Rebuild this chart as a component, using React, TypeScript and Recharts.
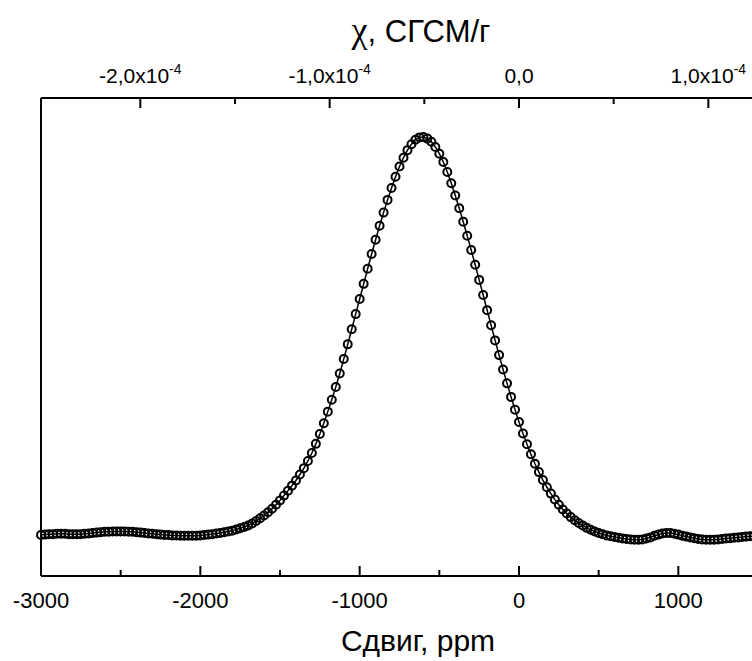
import { Line, LineChart, XAxis, YAxis } from "recharts";

// shift grid, ppm
const SHIFT_PPM = [
  -3000, -2975, -2950, -2925, -2900, -2875, -2850, -2825, -2800, -2775,
  -2750, -2725, -2700, -2675, -2650, -2625, -2600, -2575, -2550, -2525,
  -2500, -2475, -2450, -2425, -2400, -2375, -2350, -2325, -2300, -2275,
  -2250, -2225, -2200, -2175, -2150, -2125, -2100, -2075, -2050, -2025,
  -2000, -1975, -1950, -1925, -1900, -1875, -1850, -1825, -1800, -1775,
  -1750, -1725, -1700, -1675, -1650, -1625, -1600, -1575, -1550, -1525,
  -1500, -1475, -1450, -1425, -1400, -1375, -1350, -1325, -1300, -1275,
  -1250, -1225, -1200, -1175, -1150, -1125, -1100, -1075, -1050, -1025,
  -1000, -975, -950, -925, -900, -875, -850, -825, -800, -775,
  -750, -725, -700, -675, -650, -625, -600, -575, -550, -525,
  -500, -475, -450, -425, -400, -375, -350, -325, -300, -275,
  -250, -225, -200, -175, -150, -125, -100, -75, -50, -25,
  0, 25, 50, 75, 100, 125, 150, 175, 200, 225,
  250, 275, 300, 325, 350, 375, 400, 425, 450, 475,
  500, 525, 550, 575, 600, 625, 650, 675, 700, 725,
  750, 775, 800, 825, 850, 875, 900, 925, 950, 975,
  1000, 1025, 1050, 1075, 1100, 1125, 1150, 1175, 1200, 1225,
  1250, 1275, 1300, 1325, 1350, 1375, 1400, 1425, 1450, 1475,
  1500,
];

// intensity (a.u.), -3000 .. -1925
const BASELINE_LEFT = [
  0.0, 0.001, 0.002, 0.002, 0.003, 0.003, 0.003, 0.002, 0.002, 0.002,
  0.002, 0.003, 0.004, 0.005, 0.006, 0.007, 0.008, 0.008, 0.009, 0.009,
  0.009, 0.009, 0.008, 0.008, 0.007, 0.006, 0.005, 0.004, 0.003, 0.002,
  0.001, 0.0, 0.0, -0.001, -0.001, -0.002, -0.002, -0.002, -0.002, -0.002,
  -0.001, 0.0, 0.001, 0.002,
];

// -1900 .. 525
const PEAK = [
  0.004, 0.005, 0.007, 0.009, 0.011, 0.014, 0.017, 0.02, 0.024, 0.029,
  0.035, 0.042, 0.049, 0.057, 0.066, 0.076, 0.087, 0.099, 0.111, 0.124,
  0.137, 0.152, 0.168, 0.186, 0.206, 0.229, 0.254, 0.281, 0.31, 0.34,
  0.372, 0.406, 0.442, 0.479, 0.517, 0.555, 0.593, 0.631, 0.669, 0.706,
  0.742, 0.777, 0.81, 0.842, 0.872, 0.9, 0.926, 0.948, 0.967, 0.982,
  0.993, 0.999, 1.0, 0.996, 0.988, 0.975, 0.958, 0.937, 0.912, 0.884,
  0.853, 0.821, 0.787, 0.752, 0.716, 0.679, 0.641, 0.603, 0.565, 0.527,
  0.489, 0.452, 0.416, 0.381, 0.347, 0.315, 0.284, 0.255, 0.228, 0.203,
  0.179, 0.158, 0.138, 0.12, 0.104, 0.089, 0.076, 0.064, 0.054, 0.045,
  0.037, 0.03, 0.024, 0.018, 0.013, 0.009, 0.005, 0.002,
];

// 550 .. 1500
const BASELINE_RIGHT = [
  -0.001, -0.003, -0.005, -0.007, -0.009, -0.01, -0.011, -0.012, -0.012, -0.011,
  -0.009, -0.006, -0.002, 0.001, 0.004, 0.005, 0.005, 0.003, 0.001, -0.002,
  -0.004, -0.006, -0.008, -0.01, -0.011, -0.012, -0.012, -0.012, -0.011, -0.01,
  -0.009, -0.008, -0.007, -0.006, -0.005, -0.004, -0.003, -0.003, -0.002,
];

const PPM_TICKS = [-3000, -2500, -2000, -1500, -1000, -500, 0, 500, 1000, 1500];
const CHI_TICKS = [-2e-4, -1.5e-4, -1e-4, -0.5e-4, 0, 0.5e-4, 1e-4];
const CHI_LABELS = ["-2,0x10", "", "-1,0x10", "", "0,0", "", "1,0x10"];
const CHI_EXPONENTS = ["-4", "", "-4", "", "", "", "-4"];

// susceptibility per ppm of shift (top axis calibration)
const CHI_PER_PPM = 8.415e-8;

const INTENSITY = [...BASELINE_LEFT, ...PEAK, ...BASELINE_RIGHT];
const data = SHIFT_PPM.map((ppm, i) => ({ ppm, chi: ppm * CHI_PER_PPM, value: INTENSITY[i] }));

const WIDTH = 800;
const HEIGHT = 661;
const PLOT_TOP = 98;
const PLOT_BOTTOM = 576;
const FONT = "'Liberation Sans', Arial, sans-serif";

function BottomTick({ x, payload }: any) {
  const v = payload.value;
  const major = v % 1000 === 0;
  return (
    <g>
      <line x1={x} x2={x} y1={PLOT_BOTTOM} y2={PLOT_BOTTOM - (major ? 10 : 6)} stroke="#000" strokeWidth={2} />
      {major && (
        <text x={x} y={608} textAnchor="middle" fontSize={22} fontFamily={FONT} fill="#000">
          {v}
        </text>
      )}
    </g>
  );
}

function TopTick({ x, payload }: any) {
  const i = CHI_TICKS.findIndex((t) => Math.abs(t - payload.value) < 1e-9);
  const label = i >= 0 ? CHI_LABELS[i] : "";
  const exp = i >= 0 ? CHI_EXPONENTS[i] : "";
  return (
    <g>
      <line x1={x} x2={x} y1={PLOT_TOP} y2={PLOT_TOP + (label ? 10 : 6)} stroke="#000" strokeWidth={2} />
      {label && (
        <text x={x} y={83} textAnchor="middle" fontSize={21} fontFamily={FONT} fill="#000">
          {label}
          {exp && (
            <tspan dy={-9} fontSize={14}>
              {exp}
            </tspan>
          )}
        </text>
      )}
    </g>
  );
}

export default function App() {
  return (
    <div
      style={{
        position: "fixed",
        left: 0,
        top: 0,
        width: 752,
        height: 661,
        overflow: "hidden",
        background: "#fff",
      }}
    >
      <LineChart width={WIDTH} height={HEIGHT} data={data} margin={{ top: 0, right: 41, bottom: 0, left: 40 }}>
        <XAxis
          dataKey="ppm"
          type="number"
          domain={[-3000, 1500]}
          ticks={PPM_TICKS}
          interval={0}
          height={HEIGHT - PLOT_BOTTOM}
          tickLine={false}
          tickSize={0}
          axisLine={{ stroke: "#000", strokeWidth: 2 }}
          tick={<BottomTick />}
        />
        <XAxis
          xAxisId="chi"
          dataKey="chi"
          orientation="top"
          type="number"
          domain={[-3000 * CHI_PER_PPM, 1500 * CHI_PER_PPM]}
          ticks={CHI_TICKS}
          interval={0}
          height={PLOT_TOP}
          tickLine={false}
          tickSize={0}
          axisLine={{ stroke: "#000", strokeWidth: 2 }}
          tick={<TopTick />}
        />
        <YAxis
          type="number"
          domain={[-0.103, 1.098]}
          allowDataOverflow
          width={1}
          tick={false}
          tickLine={false}
          axisLine={{ stroke: "#000", strokeWidth: 2 }}
        />
        <YAxis
          yAxisId="right"
          orientation="right"
          type="number"
          domain={[-0.103, 1.098]}
          width={1}
          tick={false}
          tickLine={false}
          axisLine={{ stroke: "#000", strokeWidth: 2 }}
        />
        <Line
          xAxisId="chi"
          dataKey="value"
          stroke="none"
          dot={false}
          activeDot={false}
          isAnimationActive={false}
        />
        <Line
          dataKey="value"
          stroke="#000"
          strokeWidth={1.5}
          dot={{ r: 4, stroke: "#000", strokeWidth: 2, fill: "none" }}
          activeDot={false}
          isAnimationActive={false}
        />
        <text x={421} y={42} textAnchor="middle" fontSize={31} fontFamily={FONT} fill="#000">
          <tspan fontFamily="'Liberation Serif', serif" fontSize={36}>
            χ
          </tspan>
          , СГСМ/г
        </text>
        <text x={418} y={651} textAnchor="middle" fontSize={30} fontFamily={FONT} fill="#000">
          Сдвиг, ppm
        </text>
      </LineChart>
    </div>
  );
}
